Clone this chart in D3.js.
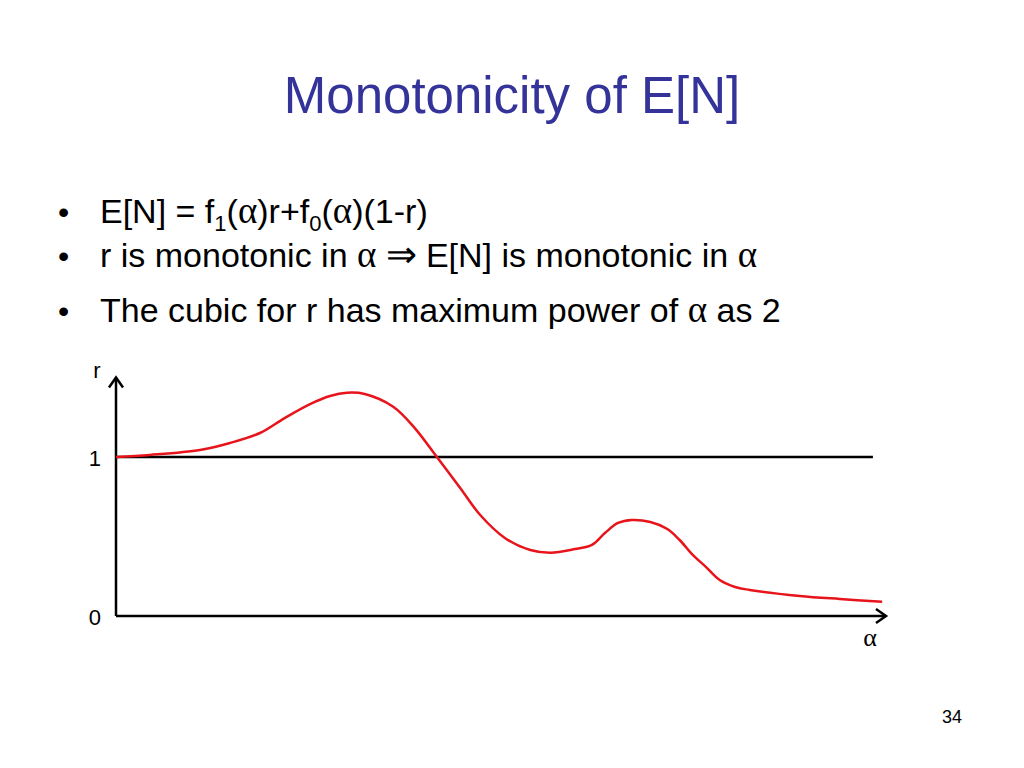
<!DOCTYPE html>
<html><head><meta charset="utf-8">
<script src="https://cdn.jsdelivr.net/npm/d3@7"></script>
<style>body{margin:0;background:#fff}svg{display:block}</style>
</head><body>
<script>
const titleText = "Monotonicity of E[N]";
const alphaVals = [0,0.44,1.09,1.48,1.87,2.19,2.52,2.78,3.00,3.23,3.60,3.88,4.17,4.47,4.73,5.05,5.38,5.64,5.96,6.18,6.35,6.52,6.70,6.94,7.16,7.32,7.49,7.65,7.84,8.04,8.23,8.88,9.40,9.95];
const rVals = [1.00,1.013,1.044,1.088,1.151,1.245,1.333,1.384,1.404,1.396,1.316,1.182,0.998,0.805,0.635,0.491,0.415,0.398,0.421,0.447,0.522,0.585,0.604,0.591,0.547,0.478,0.384,0.314,0.226,0.182,0.164,0.126,0.107,0.090];
const refLine = [[0,1],[9.83,1]];
const yTickLabels = [["0",0],["1",1]];
const pageNum = "34";

const W=1024,H=768;
const svg=d3.select("body").append("svg").attr("width",W).attr("height",H);
const x=d3.scaleLinear().domain([0,10]).range([116,886]);
const y=d3.scaleLinear().domain([0,1.5]).range([616,377.5]);

svg.append("text").attr("x",512).attr("y",113).attr("text-anchor","middle")
  .attr("font-family","Liberation Sans, Arial, sans-serif").attr("font-size",51)
  .attr("fill","#333399").text(titleText);

const F="Liberation Sans, Arial, sans-serif", S="Liberation Serif, Times New Roman, serif";
const bullets=[
  {y:223, parts:[["E[N] = f",F],["1",F,"sub"],["(",F],["α",S],[")r+f",F],["0",F,"sub"],["(",F],["α",S],[")(1-r)",F]]},
  {y:267, parts:[["r is monotonic in ",F],["α",S],[" ⇒ ",S],["E[N] is monotonic in ",F],["α",S]]},
  {y:322, parts:[["The cubic for r has maximum power of ",F],["α",S],[" as 2",F]]}
];
bullets.forEach(b=>{
  svg.append("text").attr("x",58).attr("y",b.y).attr("font-family",F).attr("font-size",32).text("•");
  const t=svg.append("text").attr("x",100).attr("y",b.y).attr("font-family",F).attr("font-size",34).attr("fill","#000");
  b.parts.forEach(p=>{
    const ts=t.append("tspan").attr("font-family",p[1]).text(p[0]);
    if(p[2]==="sub"){ts.attr("font-size",22).attr("dy",8);}
    else if(t.node().childNodes.length>1){
      const prev=t.node().childNodes[t.node().childNodes.length-2];
      if(prev.getAttribute("font-size")==="22") ts.attr("dy",-8);
    }
    if(p[1]===S) ts.attr("font-size",37);
  });
});

// axes
const ax=svg.append("g").attr("stroke","#000").attr("stroke-width",2.5).attr("fill","none");
ax.append("line").attr("x1",x(0)).attr("y1",y(0)).attr("x2",x(0)).attr("y2",y(1.5));
ax.append("line").attr("x1",x(0)).attr("y1",y(0)).attr("x2",x(10)).attr("y2",y(0));
ax.append("path").attr("d",`M${x(0)-7},${y(1.5)+10}L${x(0)},${y(1.5)}L${x(0)+7},${y(1.5)+10}`);
ax.append("path").attr("d",`M${x(10)-10},${y(0)-7}L${x(10)},${y(0)}L${x(10)-10},${y(0)+7}`);
ax.append("line").attr("x1",x(refLine[0][0])).attr("y1",y(refLine[0][1])).attr("x2",x(refLine[1][0])).attr("y2",y(refLine[1][1]));

yTickLabels.forEach(([l,v])=>{
  svg.append("text").attr("x",101).attr("y",y(v)+9).attr("text-anchor","end")
    .attr("font-family",F).attr("font-size",22).text(l);
});
svg.append("text").attr("x",97).attr("y",378).attr("text-anchor","middle").attr("font-family",F).attr("font-size",22).text("r");
svg.append("text").attr("x",870).attr("y",646).attr("text-anchor","middle").attr("font-family",S).attr("font-size",26).text("α");

const data=alphaVals.map((a,i)=>[a,rVals[i]]);
svg.append("path").datum(data).attr("fill","none").attr("stroke","#e8141b").attr("stroke-width",2.5)
  .attr("d",d3.line().x(d=>x(d[0])).y(d=>y(d[1])).curve(d3.curveCatmullRom));

svg.append("text").attr("x",952).attr("y",723).attr("text-anchor","middle").attr("font-family",F).attr("font-size",18).text(pageNum);
</script>
</body></html>
